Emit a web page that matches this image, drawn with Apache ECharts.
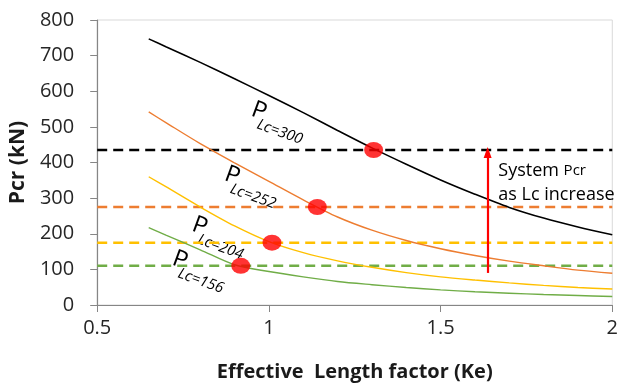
<!DOCTYPE html>
<html><head><meta charset="utf-8">
<script src="https://cdn.jsdelivr.net/npm/echarts@6/dist/echarts.min.js"></script>
<style>html,body{margin:0;padding:0;background:#fff}#c{width:621px;height:387px}</style>
</head><body><div id="c"></div>
<script>
const ke = [0.65,0.7,0.8,0.9,1.0,1.1,1.2,1.3,1.4,1.5,1.6,1.7,1.8,1.9,2.0];
const pLc300 = [747,725,681,635,588,540,490,441,395,351,311,274,244,219,197];
const pLc252 = [542,512,453,399,347,295,247,210,181,158,139,123,110,98,89];
const pLc204 = [360,332,275,222,178,147,124,106,91,79,70,62,55,49,45];
const pLc156 = [217,196,155,113,94,79,66,57,49,42.5,37,33,29.5,26.5,24];
const systemPcr = [435,275,175,110];
const dotKe = [1.305,1.141,1.009,0.918];
const curveNames = ['Lc=300','Lc=252','Lc=204','Lc=156'];
const colors = ['#000000','#ED7D31','#FFC000','#70AD47'];
const arrowKe = 1.637, arrowFrom = 90, arrowTo = 428;
const xTicks = {min:0.5, max:2, interval:0.5};
const yTicks = {min:0, max:800, interval:100};
// label anchors in data units [Ke, Pcr]
const labelAnchors = [[0.94,519],[0.862,338],[0.767,196],[0.71,101]];
const noteAnchor = [1.668, 410];

const font = '"Open Sans", "Liberation Sans", sans-serif';
const chart = echarts.init(document.getElementById('c'), null, {renderer:'canvas'});
const curves = [pLc300,pLc252,pLc204,pLc156];
const series = [];
curves.forEach((arr,i)=>{
  series.push({type:'line', name:curveNames[i], data: ke.map((k,j)=>[k,arr[j]]),
    smooth:0.3, symbol:'none', lineStyle:{color:colors[i], width: i===0?1.6:1.4}, z:3});
});
systemPcr.forEach((v,i)=>{
  series.push({type:'line', data:[[xTicks.min,v],[xTicks.max,v]], symbol:'none',
    lineStyle:{color:colors[i], width:2.5, type:[10,6]}, z:2});
});
series.push({type:'scatter', data: dotKe.map((k,i)=>[k,systemPcr[i]]), symbol:'circle',
  symbolSize:[19,16], itemStyle:{color:'#FF0000'}, z:5});
series.push({type:'line', data:[], z:4,
  markLine:{silent:true, symbol:['none','triangle'], symbolSize:[8,11], animation:false,
    label:{show:false}, lineStyle:{color:'#FF0000', width:2.2, type:'solid'},
    data:[[{coord:[arrowKe,arrowFrom]},{coord:[arrowKe,arrowTo]}]]}});

chart.setOption({
  animation:false,
  grid:{left:97, right:3, top:20, bottom:77.5, show:true, borderColor:'#d9d9d9', borderWidth:1},
  xAxis:{type:'value', min:xTicks.min, max:xTicks.max, interval:xTicks.interval,
    name:'Effective  Length factor (Ke)', nameLocation:'middle', nameGap:57,
    nameTextStyle:{fontFamily:font, fontWeight:'bold', fontSize:20, color:'#1a1a1a'},
    axisLine:{lineStyle:{color:'#868686', width:1.2}}, axisTick:{show:true, length:7, lineStyle:{color:'#868686'}},
    axisLabel:{fontFamily:font, fontSize:20, color:'#262626', margin:13}, splitLine:{show:false}},
  yAxis:{type:'value', min:yTicks.min, max:yTicks.max, interval:yTicks.interval,
    name:'Pcr (kN)', nameLocation:'middle', nameGap:66, nameRotate:90,
    nameTextStyle:{fontFamily:font, fontWeight:'bold', fontSize:21, color:'#1a1a1a'},
    axisLine:{show:true, lineStyle:{color:'#868686', width:1.2}}, axisTick:{show:true, length:7, lineStyle:{color:'#868686'}},
    axisLabel:{fontFamily:font, fontSize:20, color:'#262626', margin:23}, splitLine:{show:false}},
  series: series
});

const graphics = [];
labelAnchors.forEach((a,i)=>{
  const p = chart.convertToPixel({gridIndex:0}, a);
  graphics.push({type:'group', x:p[0], y:p[1], rotation:-20*Math.PI/180, z:10, children:[
    {type:'text', x:0, y:0, style:{text:'P', font:'24px '+font, fill:'#000', textVerticalAlign:'bottom', textAlign:'left'}},
    {type:'text', x:10, y:8, style:{text:curveNames[i], font:'italic 15px '+font, fill:'#000', textVerticalAlign:'bottom', textAlign:'left'}}
  ]});
});
const np = chart.convertToPixel({gridIndex:0}, noteAnchor);
graphics.push({type:'text', x:np[0], y:np[1], z:10, style:{
  text:'{a|System }{b|Pcr}\n{a|as Lc increase}', font:'18px '+font, fill:'#000',
  rich:{a:{fontFamily:font, fontSize:18, lineHeight:24, fill:'#000'}, b:{fontFamily:font, fontSize:15, lineHeight:24, fill:'#000'}}}});
chart.setOption({graphic:graphics});
</script></body></html>
